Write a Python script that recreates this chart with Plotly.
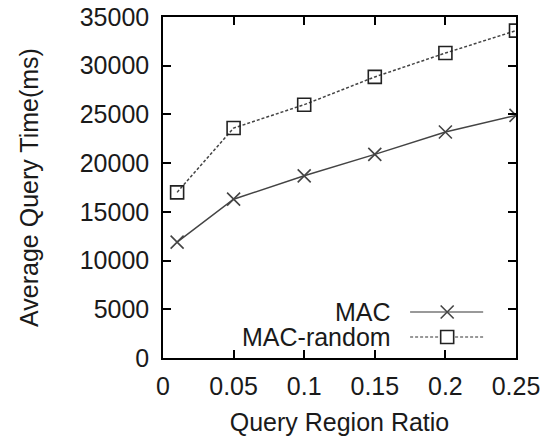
import plotly.graph_objects as go

# Query region ratio (x) and average query time in ms (y)
ratios = [0.01, 0.05, 0.10, 0.15, 0.20, 0.25]
mac_times = [11900, 16300, 18700, 20900, 23200, 24900]
mac_random_times = [17000, 23600, 26000, 28850, 31300, 33600]

series_names = ["MAC", "MAC-random"]
x_ticks = [0, 0.05, 0.1, 0.15, 0.2, 0.25]
x_tick_labels = ["0", "0.05", "0.1", "0.15", "0.2", "0.25"]
y_ticks = [0, 5000, 10000, 15000, 20000, 25000, 30000, 35000]

FONT = "Liberation Sans, Arial, sans-serif"
TEXT = "#1a1a1a"
LINE = "#444444"
FS = 25

fig = go.Figure()

fig.add_trace(go.Scatter(
    x=ratios, y=mac_times, mode="lines+markers", name=series_names[0],
    line=dict(color=LINE, width=1.5),
    marker=dict(symbol="x-thin", size=13, line=dict(color=LINE, width=1.6)),
    showlegend=False,
))
fig.add_trace(go.Scatter(
    x=ratios, y=mac_random_times, mode="lines+markers", name=series_names[1],
    line=dict(color=LINE, width=1.5, dash="3px,2px"),
    marker=dict(symbol="square-open", size=13, color="#222",
                line=dict(color="#222", width=1.6)),
    showlegend=False,
))

# Legend keys drawn on an overlay axis spanning the plot area (0..1)
key_x0, key_x1, key_mid = 0.70, 0.907, 0.805
rows = [0.135, 0.0616]
fig.add_trace(go.Scatter(
    x=[key_x0, key_x1], y=[rows[0], rows[0]], mode="lines",
    line=dict(color="#777", width=1.4), xaxis="x2", yaxis="y2",
    showlegend=False, hoverinfo="skip",
))
fig.add_trace(go.Scatter(
    x=[key_mid], y=[rows[0]], mode="markers",
    marker=dict(symbol="x-thin", size=13, line=dict(color=LINE, width=1.6)),
    xaxis="x2", yaxis="y2", showlegend=False, hoverinfo="skip",
))
fig.add_trace(go.Scatter(
    x=[key_x0, key_x1], y=[rows[1], rows[1]], mode="lines",
    line=dict(color="#777", width=1.4, dash="3px,2px"), xaxis="x2", yaxis="y2",
    showlegend=False, hoverinfo="skip",
))
fig.add_trace(go.Scatter(
    x=[key_mid], y=[rows[1]], mode="markers",
    marker=dict(symbol="square", size=13, color="white",
                line=dict(color="#222", width=1.6)),
    xaxis="x2", yaxis="y2", showlegend=False, hoverinfo="skip",
))
for name, yr in zip(series_names, rows):
    fig.add_annotation(
        x=0.652, y=yr, xref="x2", yref="y2", text=name, showarrow=False,
        xanchor="right", yanchor="middle",
        font=dict(family=FONT, size=FS, color=TEXT),
    )

axis_common = dict(
    showline=True, linecolor="#000", linewidth=1.5, mirror="ticks",
    ticks="inside", ticklen=8, tickwidth=1.5, tickcolor="#000",
    showgrid=False, zeroline=False, automargin=False,
    tickfont=dict(family=FONT, size=FS, color=TEXT),
)

fig.update_layout(
    width=548, height=439,
    margin=dict(l=163, r=32, t=17, b=81),
    paper_bgcolor="white", plot_bgcolor="white",
    xaxis=dict(
        range=[0, 0.25], tickvals=x_ticks, ticktext=x_tick_labels,
        ticklabelstandoff=5,
        title=dict(text="Query Region Ratio", standoff=15,
                   font=dict(family=FONT, size=FS, color=TEXT)),
        **axis_common,
    ),
    yaxis=dict(
        range=[0, 35000], tickvals=y_ticks, tickformat="d",
        ticklabelstandoff=7,
        title=dict(text="Average Query Time(ms)", standoff=34,
                   font=dict(family=FONT, size=FS, color=TEXT)),
        **axis_common,
    ),
    xaxis2=dict(range=[0, 1], overlaying="x", visible=False, fixedrange=True),
    yaxis2=dict(range=[0, 1], overlaying="y", visible=False, fixedrange=True),
)

fig.write_html("out.html")
